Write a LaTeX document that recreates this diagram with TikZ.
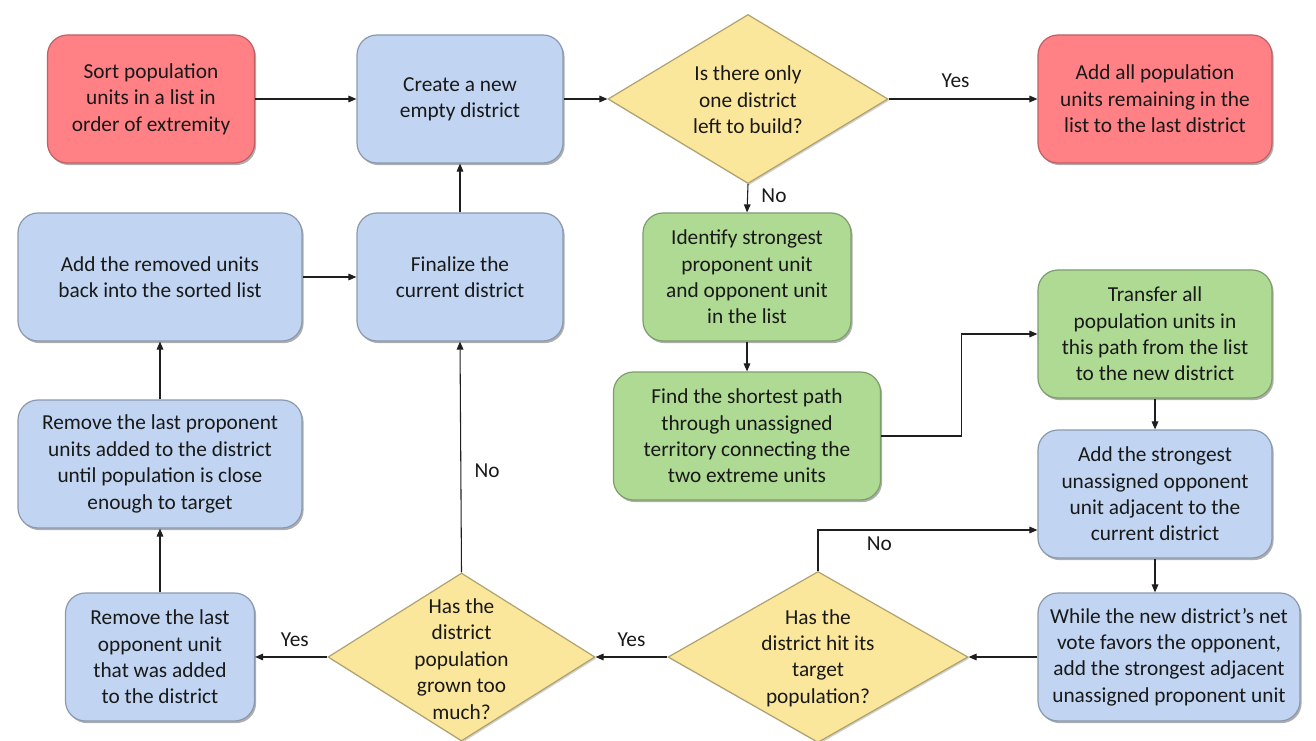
\documentclass[tikz,border=0pt]{standalone}
\usepackage{fontspec}
\setmainfont{Carlito}
\usetikzlibrary{shapes.geometric,arrows.meta,shadows,calc}
\definecolor{redf}{RGB}{255,128,133}
\definecolor{bluef}{RGB}{193,213,242}
\definecolor{greenf}{RGB}{174,218,148}
\definecolor{yellowf}{RGB}{251,231,156}
\definecolor{txt}{RGB}{25,25,25}
\definecolor{ln}{RGB}{30,30,30}
\begin{document}
\begin{tikzpicture}[x=0.75pt,y=-0.75pt,
  font=\fontsize{16}{19.8}\selectfont, text=txt,
  box/.style={rounded corners=15pt, minimum height=96pt, align=center, inner sep=2pt,
    drop shadow={opacity=0.45, shadow xshift=1.2pt, shadow yshift=-1.6pt, fill=black!70}},
  redbox/.style={box, fill=redf, draw=redf!75!black, line width=0.9pt},
  bluebox/.style={box, fill=bluef, draw=bluef!72!black, line width=0.9pt},
  greenbox/.style={box, fill=greenf, draw=greenf!72!black, line width=0.9pt},
  dia/.style={diamond, inner sep=0pt, fill=yellowf, draw=yellowf!70!black, line width=0.9pt,
    drop shadow={opacity=0.3, shadow xshift=1pt, shadow yshift=-1.2pt, fill=black!60}},
  dtext/.style={align=center, inner sep=0pt},
  arr/.style={draw=ln, line width=0.8pt, -{Triangle[length=6pt,width=5pt]}},
  lbl/.style={inner sep=2pt, text=txt}
]
\useasboundingbox (0,0) rectangle (1316,741);

% nodes
\node[redbox, minimum width=155.25pt] (sort) at (151,99) {Sort population\\units in a list in\\order of extremity};
\node[bluebox, minimum width=154.5pt] (create) at (460,99) {Create a new\\empty district};
\node[dia, minimum width=210pt, minimum height=126.75pt] (d1) at (748,99) {};
\node[dtext] at (748,100) {Is there only\\one district\\left to build?};
\node[redbox, minimum width=175.5pt] (addall) at (1155,99) {Add all population\\units remaining in the\\list to the last district};

\node[bluebox, minimum width=213pt] (addrem) at (160,277) {Add the removed units\\back into the sorted list};
\node[bluebox, minimum width=154.5pt] (final) at (460,277) {Finalize the\\current district};
\node[greenbox, minimum width=156pt] (ident) at (747,277) {Identify strongest\\proponent unit\\and opponent unit\\in the list};
\node[greenbox, minimum width=175.5pt] (transfer) at (1155,334) {Transfer all\\population units in\\this path from the list\\to the new district};
\node[greenbox, minimum width=200.25pt] (find) at (747,436) {Find the shortest path\\through unassigned\\territory connecting the\\two extreme units};
\node[bluebox, minimum width=213pt] (remprop) at (160,464) {Remove the last proponent\\units added to the district\\until population is close\\enough to target};
\node[bluebox, minimum width=175.5pt] (addopp) at (1155,494) {Add the strongest\\unassigned opponent\\unit adjacent to the\\current district};

\node[bluebox, minimum width=141.75pt] (remopp) at (160,657) {Remove the last\\opponent unit\\that was added\\to the district};
\node[dia, minimum width=200.25pt, minimum height=126pt] (d3) at (461.5,657) {};
\node[dtext] at (461.5,659) {Has the\\district\\population\\grown too\\much?};
\node[dia, minimum width=225pt, minimum height=128.25pt] (d2) at (818,657) {};
\node[dtext] at (818,658) {Has the\\district hit its\\target\\population?};
\node[bluebox, minimum width=196.5pt] (while) at (1169,657) {While the new district’s net\\vote favors the opponent,\\add the strongest adjacent\\unassigned proponent unit};

% connectors
\draw[arr] (sort.east) -- (create.west);
\draw[arr] (create.east) -- (d1.west);
\draw[arr] (d1.east) -- node[lbl, above=6pt, pos=0.45] {Yes} (addall.west);
\draw[arr] (d1.south) -- node[lbl, right=8pt, pos=0.4] {No} (ident.north);
\draw[arr] (ident.south) -- (find.north);
\draw[arr] (find.east) -- ++(80,0) |- (transfer.west);
\draw[arr] (transfer.south) -- (addopp.north);
\draw[arr] (addopp.south) -- (addopp.south |- while.north);
\draw[arr] (while.west) -- (d2.east);
\coordinate (nohit) at ($(addopp.west)+(0,36)$);
\draw[arr] (d2.north) |- node[lbl, below=3pt, pos=0.64] {No} (nohit);
\draw[arr] (d2.west) -- node[lbl, above=5pt, pos=0.5] {Yes} (d3.east);
\draw[arr] (d3.north) -- node[lbl, right=8pt, pos=0.44] {No} (final.south);
\draw[arr] (d3.west) -- node[lbl, above=5pt, pos=0.45] {Yes} (remopp.east);
\draw[arr] (remopp.north) -- (remprop.south);
\draw[arr] (remprop.north) -- (addrem.south);
\draw[arr] (addrem.east) -- (final.west);
\draw[arr] (final.north) -- (create.south);
\end{tikzpicture}
\end{document}
